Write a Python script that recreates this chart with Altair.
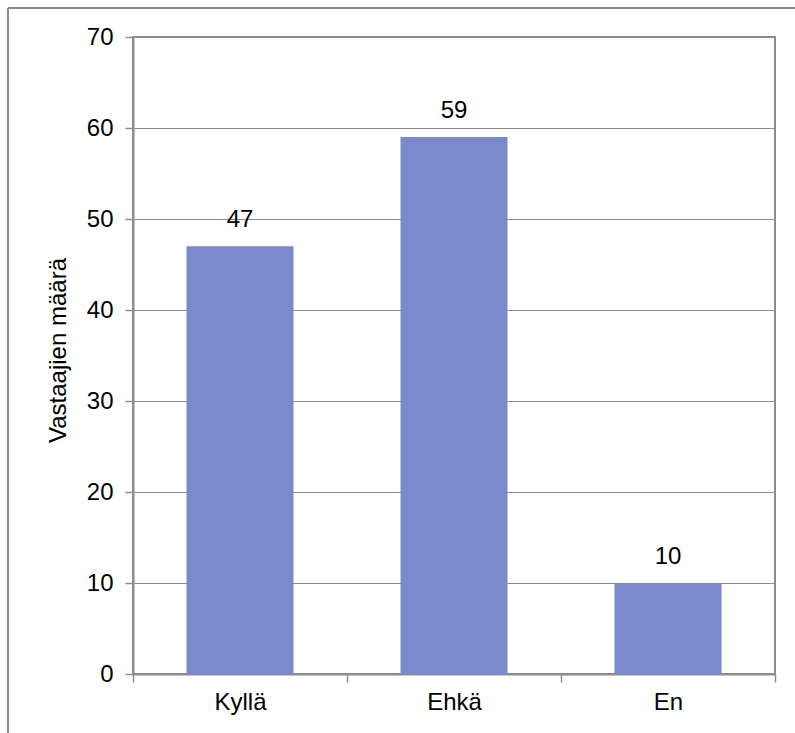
import altair as alt
import pandas as pd

categories = ["Kyllä", "Ehkä", "En"]
counts = [47, 59, 10]
y_ticks = [0, 10, 20, 30, 40, 50, 60, 70]

GRAY = "#8c8c8c"
FONT = "Liberation Sans"

df = pd.DataFrame({"vastaus": categories, "maara": counts})

x_enc = alt.X(
    "vastaus:N",
    sort=categories,
    scale=alt.Scale(paddingInner=0, paddingOuter=0),
    axis=alt.Axis(
        title=None, labelAngle=0, tickBand="extent", tickSize=8,
        labelFontSize=24, labelFont=FONT, labelColor="black",
        domainColor=GRAY, domainWidth=2, tickColor=GRAY, tickWidth=1.5,
        labelPadding=8, grid=False,
    ),
)
y_enc = alt.Y(
    "maara:Q",
    scale=alt.Scale(domain=[0, 70], nice=False),
    axis=alt.Axis(
        values=y_ticks, title="Vastaajien määrä",
        titleFont=FONT, titleFontSize=24, titleFontWeight="normal", titleColor="black",
        titleX=-68, titleY=313, titleAngle=270, titleBaseline="alphabetic", titleAlign="center",
        labelFontSize=24, labelFont=FONT, labelColor="black", labelPadding=12,
        tickSize=8, tickColor=GRAY, tickWidth=1.5, domainColor=GRAY, domainWidth=2,
        grid=True, gridColor=GRAY, gridWidth=1,
    ),
)

base = alt.Chart(df)
bars = base.mark_bar(color="#7a8acd", width=alt.RelativeBandSize(0.5)).encode(x=x_enc, y=y_enc)
labels = base.mark_text(dy=-19, baseline="alphabetic", fontSize=24, font=FONT, color="black").encode(
    x=alt.X("vastaus:N", sort=categories), y="maara:Q", text="maara:Q"
)

frame_df = pd.DataFrame({"k": [0]})
frame_left = alt.Chart(frame_df).mark_rule(color=GRAY, strokeWidth=2).encode(
    x=alt.value(-125), y=alt.value(-29), y2=alt.value(720)
)
frame_top = alt.Chart(frame_df).mark_rule(color=GRAY, strokeWidth=2).encode(
    x=alt.value(-125), x2=alt.value(700), y=alt.value(-29)
)

chart = (
    alt.layer(bars, labels, frame_left, frame_top)
    .properties(
        width=642, height=637,
        padding={"left": 133, "top": 37, "right": 20, "bottom": 59},
        autosize=alt.AutoSizeParams(type="none"),
        background="white",
    )
    .configure_view(stroke=GRAY, strokeWidth=2)
)

chart.save("out.html", embed_options={"renderer": "svg", "actions": False})
